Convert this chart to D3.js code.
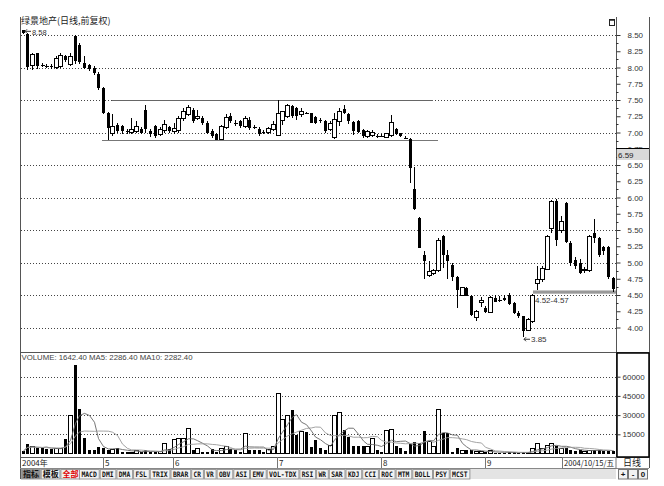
<!DOCTYPE html>
<html><head><meta charset="utf-8">
<script src="https://cdn.jsdelivr.net/npm/d3@7"></script>
<style>body{margin:0;background:#fff;} svg{display:block;font-family:"Liberation Sans",Arial,sans-serif;}</style>
</head><body>
<svg id="c" width="664" height="486"></svg>
<script>
// ---------- data ----------
const title = "绿景地产(日线,前复权)";
const opens = [8.57,8.52,8.03,8.22,8.04,8.03,8.03,8.00,8.02,8.17,
8.05,8.49,8.35,8.07,8.04,8.00,7.90,7.68,7.30,6.98,
7.11,7.10,7.02,7.00,7.02,7.05,7.35,7.03,7.10,6.97,
7.03,7.08,7.01,7.03,7.21,7.28,7.34,7.21,7.23,7.15,
7.03,6.97,6.89,7.07,7.25,7.14,7.17,7.10,7.20,7.09,
7.06,7.01,7.00,7.04,6.96,7.19,7.24,7.41,7.37,7.27,
7.30,7.30,7.24,7.20,7.18,7.05,6.92,7.17,7.36,7.28,
7.16,7.18,7.04,6.94,6.95,6.95,6.95,6.93,6.95,7.05,
6.99,6.92,6.90,6.13,5.68,5.12,4.80,4.83,4.87,5.41,
5.12,4.96,4.77,4.50,4.61,4.48,4.16,4.38,4.30,4.23,
4.46,4.43,4.46,4.50,4.37,4.22,4.17,3.96,4.09,4.67,
4.74,4.90,5.53,5.95,5.50,5.92,5.30,5.04,4.99,4.87,
4.88,5.46,5.37,5.24,5.24,4.76];
const highs = [8.58,8.53,8.22,8.23,8.07,8.05,8.05,8.18,8.22,8.20,
8.22,8.50,8.38,8.17,8.06,8.02,7.93,7.70,7.31,7.28,
7.15,7.12,7.05,7.22,7.18,7.08,7.43,7.05,7.12,7.08,
7.20,7.10,7.15,7.25,7.37,7.43,7.38,7.34,7.26,7.18,
7.06,7.00,7.12,7.28,7.30,7.20,7.20,7.25,7.24,7.12,
7.08,7.04,7.09,7.17,7.50,7.33,7.44,7.43,7.39,7.37,
7.31,7.30,7.26,7.22,7.20,7.18,7.30,7.38,7.42,7.30,
7.18,7.20,7.06,7.04,7.04,6.97,6.97,7.00,7.27,7.07,
7.00,6.94,6.91,6.47,5.70,5.18,5.02,4.90,5.37,5.43,
5.20,5.00,4.80,4.62,4.63,4.50,4.27,4.47,4.33,4.48,
4.50,4.49,4.50,4.53,4.39,4.25,4.18,4.15,4.52,4.95,
4.95,5.42,5.96,5.97,5.72,5.93,5.33,5.08,5.05,4.93,
5.42,5.67,5.40,5.26,5.26,4.78];
const lows = [8.52,7.96,7.96,7.98,8.01,8.00,7.97,7.98,8.00,8.08,
8.02,8.05,8.05,7.97,7.94,7.88,7.66,7.28,6.88,6.95,
7.00,6.98,6.98,6.97,7.00,6.97,7.00,6.93,6.92,6.94,
7.00,7.00,6.97,6.99,7.18,7.26,7.14,7.19,7.12,6.98,
6.91,6.88,6.88,7.05,7.14,7.10,7.07,7.07,7.04,7.06,
6.94,6.97,6.98,7.02,6.95,7.12,7.22,7.22,7.20,7.24,
7.29,7.14,7.13,7.15,7.00,7.02,6.90,7.10,7.28,7.13,
6.96,6.99,6.92,6.92,6.93,6.92,6.93,6.92,6.93,6.96,
6.93,6.90,6.23,5.81,5.22,4.74,4.78,4.81,4.85,4.92,
4.74,4.72,4.30,4.48,4.48,4.18,4.10,4.32,4.22,4.22,
4.39,4.40,4.41,4.35,4.21,4.15,3.85,3.94,4.07,4.57,
4.70,4.88,5.45,5.25,5.45,5.30,4.95,4.90,4.82,4.84,
4.86,5.30,5.08,5.12,4.75,4.55];
const closes = [8.53,8.01,8.20,8.03,8.04,8.03,8.02,8.14,8.18,8.12,
8.17,8.10,8.09,7.99,7.97,7.92,7.68,7.30,7.07,7.09,
7.03,7.02,7.02,7.05,7.10,6.99,7.05,6.97,6.95,7.05,
7.13,7.03,7.06,7.22,7.33,7.39,7.17,7.24,7.14,7.00,
6.94,6.89,7.10,7.23,7.17,7.14,7.10,7.21,7.07,7.09,
6.97,7.00,7.06,7.12,7.30,7.32,7.41,7.25,7.25,7.32,
7.30,7.15,7.15,7.17,7.03,7.14,7.20,7.32,7.30,7.17,
7.02,7.01,6.95,7.01,7.00,6.95,6.95,6.98,7.15,6.98,
6.95,6.92,6.46,5.82,5.23,5.03,4.86,4.87,5.34,5.12,
5.02,4.77,4.57,4.61,4.49,4.20,4.24,4.42,4.24,4.46,
4.40,4.43,4.43,4.36,4.22,4.17,3.95,4.12,4.50,4.74,
4.91,5.40,5.94,5.35,5.63,5.32,4.99,4.94,4.84,4.90,
5.40,5.37,5.12,5.17,4.77,4.59];
const volumes = [2000,7500,5800,4200,4000,3800,3300,4200,3600,11000,
29300,69000,35000,12400,2800,2700,5300,4000,2800,3300,
4000,1300,1200,800,2300,1300,2500,1000,900,1500,
8000,3300,11000,11500,12000,19700,3000,4000,1500,1200,
3400,1400,4000,5500,3300,2800,1500,15700,2500,2800,
2600,1400,3500,5300,47000,26200,30000,34000,14500,17500,
16500,5300,10500,4000,2500,5900,29300,32300,18400,12800,
5900,5900,5900,5500,12000,2700,1200,17800,18700,5900,
4000,2200,7400,9300,8200,17300,9000,5300,34500,15700,
15700,1400,4000,2700,2700,2700,1500,1200,900,2000,
700,500,500,800,800,500,1000,1000,4000,7900,
4000,6000,8000,6000,4000,4000,2800,2000,2400,1800,
2378,3000,2800,2000,2000,1642];
const priceTicks = [4.00,4.25,4.50,4.75,5.00,5.25,5.50,5.75,6.00,6.25,6.50,6.75,7.00,7.25,7.50,7.75,8.00,8.25,8.50];
const priceGrid = [4.0,4.5,5.0,5.5,6.0,6.5,7.0,7.5,8.0,8.5];
const volTicks = [15000,30000,45000,60000];
const monthLabels = ["2004年","5","6","7","8","9"];
const monthStarts = [0,17,32,54,76,98];
const lastDate = "2004/10/15/五";
const periodLabel = "日线";
const volLabel = "VOLUME: 1642.40 MA5: 2286.40 MA10: 2282.40";
const boxPrice = "6.59";
const rangeTop = 7.50, rangeBottom = 6.88, rangeFrom = 18, rangeTo = 88;
const gapLow = 4.52, gapHigh = 4.57, gapFrom = 109, gapLabel = "4.52-4.57";
const cnButtons = ["指标","模板","全部"];
const navButtons = ["MACD","DMI","DMA","FSL","TRIX","BRAR","CR","VR","OBV","ASI","EMV","VOL-TDX","RSI","WR","SAR","KDJ","CCI","ROC","MTM","BOLL","PSY","MCST"];
const zoomButtons = ["+","-","0"];

// ---------- layout ----------
const svg = d3.select("#c");
const n = opens.length;
const L = 20, R = 616, RR = 649, TOP = 17, MB = 352, VB = 457, DB = 468, BB = 479;
const x = d3.scaleBand().domain(d3.range(n)).range([20.34, 615.06]);
const cx = i => Math.round(x(i) + x.bandwidth() / 2);
const y = d3.scaleLinear().domain([4, 8.5]).range([327.5, 35]);
const yv = d3.scaleLinear().domain([0, 60000]).range([453.5, 376.7]);

// frames
svg.append("line").attr("x1", L + 0.5).attr("x2", L + 0.5).attr("y1", TOP).attr("y2", BB).attr("stroke", "#555");
svg.append("line").attr("x1", R + 0.5).attr("x2", R + 0.5).attr("y1", TOP).attr("y2", VB).attr("stroke", "#555");
svg.append("line").attr("x1", RR + 0.5).attr("x2", RR + 0.5).attr("y1", TOP).attr("y2", DB).attr("stroke", "#555");
svg.append("line").attr("x1", L).attr("x2", RR).attr("y1", MB + 0.5).attr("y2", MB + 0.5).attr("stroke", "#555");
svg.append("line").attr("x1", L).attr("x2", RR).attr("y1", VB + 0.5).attr("y2", VB + 0.5).attr("stroke", "#555");
svg.append("line").attr("x1", L).attr("x2", RR).attr("y1", DB + 0.5).attr("y2", DB + 0.5).attr("stroke", "#888");
// small icon
svg.append("rect").attr("x", 609.5).attr("y", 19.5).attr("width", 5).attr("height", 6).attr("fill", "none").attr("stroke", "#222");
svg.append("line").attr("x1", 609).attr("x2", 615).attr("y1", 20).attr("y2", 20).attr("stroke", "#222").attr("stroke-width", 1.5);

// title
svg.append("text").attr("x", 21).attr("y", 24).attr("font-family", "Noto Sans CJK SC").attr("font-size", 9).attr("fill", "#222").text(title);

// grid
svg.append("g").selectAll("line").data(priceGrid).join("line")
  .attr("x1", L + 1).attr("x2", R).attr("y1", d => Math.round(y(d)) + 0.5).attr("y2", d => Math.round(y(d)) + 0.5)
  .attr("stroke", "#444").attr("stroke-dasharray", "1,2");
svg.append("g").selectAll("line").data(volTicks).join("line")
  .attr("x1", L + 1).attr("x2", R).attr("y1", d => Math.round(yv(d)) + 0.5).attr("y2", d => Math.round(yv(d)) + 0.5)
  .attr("stroke", "#444").attr("stroke-dasharray", "1,2");

// range lines
svg.append("line").attr("x1", cx(rangeFrom + 1)).attr("x2", cx(rangeTo) - 5)
  .attr("y1", Math.round(y(rangeTop)) + 0.5).attr("y2", Math.round(y(rangeTop)) + 0.5).attr("stroke", "#666");
svg.append("line").attr("x1", cx(rangeFrom - 1) - 1).attr("x2", cx(rangeTo))
  .attr("y1", Math.round(y(rangeBottom)) + 0.5).attr("y2", Math.round(y(rangeBottom)) + 0.5).attr("stroke", "#777");
// gap band
svg.append("rect").attr("x", cx(gapFrom) - 4).attr("width", R - cx(gapFrom) + 4)
  .attr("y", y(gapHigh)).attr("height", y(gapLow) - y(gapHigh)).attr("fill", "#999");
svg.append("text").attr("x", cx(gapFrom) - 2).attr("y", y(gapLow) + 9).attr("font-size", 8).attr("fill", "#333").text(gapLabel);

// candles
const cg = svg.append("g").attr("shape-rendering", "crispEdges");
const idx = d3.range(n);
cg.selectAll("line.w").data(idx).join("line")
  .attr("x1", i => cx(i) + 0.5).attr("x2", i => cx(i) + 0.5)
  .attr("y1", i => y(highs[i])).attr("y2", i => y(lows[i]))
  .attr("stroke", "#000");
cg.selectAll("rect.b").data(idx).join("rect")
  .attr("x", i => closes[i] >= opens[i] ? cx(i) - 1.5 : cx(i) - 1)
  .attr("width", i => closes[i] >= opens[i] ? 4 : 3)
  .attr("y", i => y(Math.max(opens[i], closes[i])))
  .attr("height", i => Math.max(1, Math.abs(y(opens[i]) - y(closes[i]))))
  .attr("fill", i => closes[i] > opens[i] ? "#fff" : "#000")
  .attr("stroke", i => closes[i] > opens[i] ? "#000" : "none");

// high/low annotations
const iHi = d3.maxIndex(highs), iLo = d3.minIndex(lows);
svg.append("path").attr("d", `M${cx(iHi)+2},${y(highs[iHi])+1.5}h6M${cx(iHi)+2},${y(highs[iHi])+1.5}l2,-2M${cx(iHi)+2},${y(highs[iHi])+1.5}l2,2`).attr("stroke", "#333").attr("fill", "none");
svg.append("text").attr("x", cx(iHi) + 9).attr("y", y(highs[iHi]) + 5).attr("font-size", 7.5).attr("fill", "#333").text(d3.format(".2f")(highs[iHi]));
svg.append("path").attr("d", `M${cx(iLo)+1},${y(lows[iLo])+2}h6M${cx(iLo)+1},${y(lows[iLo])+2}l2,-2M${cx(iLo)+1},${y(lows[iLo])+2}l2,2`).attr("stroke", "#333").attr("fill", "none");
svg.append("text").attr("x", cx(iLo) + 8).attr("y", y(lows[iLo]) + 5).attr("font-size", 8).attr("fill", "#333").text(d3.format(".2f")(lows[iLo]));

// price axis
const pa = svg.append("g").attr("transform", `translate(${R + 0.5},0)`)
  .call(d3.axisRight(y).tickValues(priceTicks).tickFormat(d3.format(".2f")).tickSize(4).tickPadding(7));
pa.select(".domain").remove();
pa.selectAll("line").attr("stroke", "#333");
pa.selectAll("text").attr("font-size", 8).attr("fill", "#333").attr("font-family", "Liberation Sans");
// minor ticks
svg.append("g").selectAll("line").data(d3.range(8.375, 3.9, -0.25)).join("line")
  .attr("x1", R).attr("x2", R + 2.5).attr("y1", d => Math.round(y(d)) + 0.5).attr("y2", d => Math.round(y(d)) + 0.5).attr("stroke", "#333");
// price box (covers the lower half of the 6.75 label, as in the source)
svg.append("rect").attr("x", R + 1).attr("y", 148).attr("width", RR - R - 1).attr("height", 12).attr("fill", "#d9d9d9");
svg.append("line").attr("x1", R).attr("x2", RR).attr("y1", 148.5).attr("y2", 148.5).attr("stroke", "#000");
svg.append("text").attr("x", R + 2).attr("y", 157.5).attr("font-size", 8).attr("fill", "#222").text(boxPrice);

// volume
svg.append("text").attr("x", 21.5).attr("y", 360).attr("font-size", 8).attr("fill", "#444")
  .attr("textLength", 171).attr("lengthAdjust", "spacingAndGlyphs").text(volLabel);
const vg = svg.append("g").attr("shape-rendering", "crispEdges");
vg.selectAll("rect").data(idx).join("rect")
  .attr("x", i => closes[i] > opens[i] ? cx(i) - 1.5 : cx(i) - 1)
  .attr("width", i => closes[i] > opens[i] ? 4 : 3)
  .attr("y", i => yv(volumes[i]))
  .attr("height", i => yv(0) - yv(volumes[i]))
  .attr("fill", i => closes[i] > opens[i] ? "#fff" : "#000")
  .attr("stroke", i => closes[i] > opens[i] ? "#000" : "none");
const ma = k => idx.map(i => d3.mean(volumes.slice(Math.max(0, i - k + 1), i + 1)));
const ma5 = ma(5), ma10 = ma(10);
const lineGen = arr => d3.line().x(i => cx(i) + 0.5).y(i => yv(arr[i]))(idx);
svg.append("path").attr("d", lineGen(ma5)).attr("fill", "none").attr("stroke", "#666").attr("stroke-width", 0.9);
svg.append("path").attr("d", lineGen(ma10)).attr("fill", "none").attr("stroke", "#999").attr("stroke-width", 0.9);
// volume axis box
svg.append("rect").attr("x", R + 1).attr("y", MB + 1).attr("width", RR - R - 1).attr("height", VB - MB - 1)
  .attr("fill", "none").attr("stroke", "#000").attr("stroke-width", 1.5);
const va = svg.append("g").attr("transform", `translate(${R + 0.5},0)`)
  .call(d3.axisRight(yv).tickValues(volTicks).tickFormat(d3.format("d")).tickSize(4).tickPadding(2));
va.select(".domain").remove();
va.selectAll("line").attr("stroke", "#333");
va.selectAll("text").attr("font-size", 8).attr("fill", "#333");

// date row
const dr = svg.append("g");
dr.selectAll("line").data(monthStarts.slice(1)).join("line")
  .attr("x1", i => Math.round(x(i)) + 2.5).attr("x2", i => Math.round(x(i)) + 2.5)
  .attr("y1", VB).attr("y2", DB).attr("stroke", "#777");
dr.selectAll("text").data(monthStarts).join("text")
  .attr("x", (i, k) => k === 0 ? 22 : Math.round(x(i)) + 4).attr("y", 465.5)
  .attr("font-size", 8).attr("fill", "#222").attr("font-family", "Noto Sans CJK SC, Liberation Sans")
  .text((i, k) => monthLabels[k]);
svg.append("rect").attr("x", 562.5).attr("y", VB + 0.5).attr("width", R - 562.5).attr("height", DB - VB).attr("fill", "#fff").attr("stroke", "#777");
svg.append("text").attr("x", 564).attr("y", 465.5).attr("font-size", 8).attr("fill", "#222").attr("font-family", "Noto Sans CJK SC")
  .attr("textLength", 50).attr("lengthAdjust", "spacingAndGlyphs").text(lastDate);
svg.append("text").attr("x", 623).attr("y", 466).attr("font-size", 9).attr("fill", "#222").attr("font-family", "Noto Sans CJK SC").text(periodLabel);

// button row
svg.append("rect").attr("x", L + 1).attr("y", DB + 1).attr("width", R - L - 1).attr("height", BB - DB - 1).attr("fill", "#e4e4e4");
const cnW = 19.7;
cnButtons.forEach((t, k) => {
  const bx = L + 1 + k * cnW;
  svg.append("rect").attr("x", bx + 0.5).attr("y", DB + 1.5).attr("width", cnW - 1).attr("height", 9.5)
    .attr("fill", k === 0 ? "#8f8f8f" : "#efefef").attr("stroke", "#999");
  svg.append("text").attr("x", bx + 2).attr("y", 477).attr("font-size", 8).attr("font-family", "Noto Sans CJK SC")
    .attr("font-weight", "bold").attr("fill", k === 2 ? "#e00000" : "#111").text(t);
});
let bx = 79;
navButtons.forEach(t => {
  const w = t.length * 4 + 4.7;
  svg.append("rect").attr("x", bx + 0.5).attr("y", DB + 1.5).attr("width", w - 1).attr("height", 9.5).attr("fill", "#f2f2f2").attr("stroke", "#999");
  svg.append("text").attr("x", bx + 2.4).attr("y", 476.5).attr("font-size", 7.5).attr("font-family", "DejaVu Sans Mono")
    .attr("font-weight", "bold").attr("fill", "#111").attr("textLength", t.length * 4 - 0.6).attr("lengthAdjust", "spacingAndGlyphs").text(t);
  bx += w;
});
zoomButtons.forEach((t, k) => {
  const zx = 618 + k * 10;
  svg.append("rect").attr("x", zx + 0.5).attr("y", DB + 1.5).attr("width", 9).attr("height", 9.5).attr("fill", "#f2f2f2").attr("stroke", "#777");
  svg.append("text").attr("x", zx + 5).attr("y", 477).attr("text-anchor", "middle").attr("font-size", 8)
    .attr("font-weight", "bold").attr("fill", "#111").text(t);
});
</script>
</body></html>
